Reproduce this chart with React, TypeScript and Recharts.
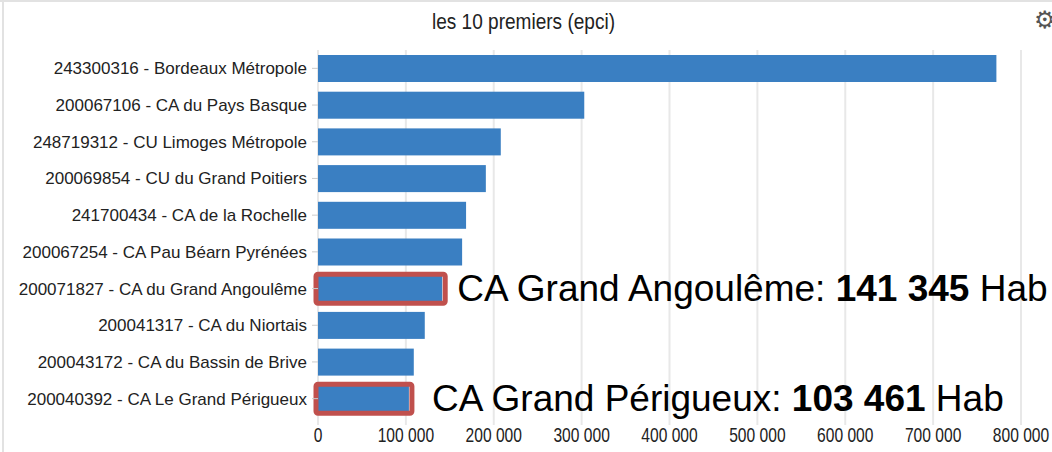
import React from "react";
import { BarChart, Bar, XAxis, YAxis, CartesianGrid } from "recharts";

const categories = [
  "243300316 - Bordeaux Métropole",
  "200067106 - CA du Pays Basque",
  "248719312 - CU Limoges Métropole",
  "200069854 - CU du Grand Poitiers",
  "241700434 - CA de la Rochelle",
  "200067254 - CA Pau Béarn Pyrénées",
  "200071827 - CA du Grand Angoulême",
  "200041317 - CA du Niortais",
  "200043172 - CA du Bassin de Brive",
  "200040392 - CA Le Grand Périgueux",
];
const population = [772000, 303000, 208000, 191000, 168500, 164000, 141345, 121500, 109000, 103461];
const xTicks = [0, 100000, 200000, 300000, 400000, 500000, 600000, 700000, 800000];
const title = "les 10 premiers (epci)";

const annotationNames = ["200071827 - CA du Grand Angoulême", "200040392 - CA Le Grand Périgueux"];
const annotationLabels = ["CA Grand Angoulême: ", "CA Grand Périgueux: "];
const annotationValues = ["141 345", "103 461"];
const annotationUnit = " Hab";

const data = categories.map((name, i) => ({ name, value: population[i] }));

const annotationDx: Record<string, number> = {
  "200071827 - CA du Grand Angoulême": 15,
  "200040392 - CA Le Grand Périgueux": 23,
};

const fmt = (v: number) => String(v).replace(/\B(?=(\d{3})+(?!\d))/g, " ");

const FONT = "'Liberation Sans', Arial, sans-serif";

const XTick = (props: any) => {
  const { x, y, payload } = props;
  return (
    <text
      transform={`translate(${x},${y + 15}) scale(0.78,1)`}
      textAnchor="middle"
      fontFamily={FONT}
      fontSize={20}
      fill="#222"
    >
      {fmt(payload.value)}
    </text>
  );
};

const BarShape = (props: any) => {
  const { x, y, width, height, payload } = props;
  const idx = annotationNames.indexOf(payload.name);
  return (
    <g>
      <rect x={x} y={y} width={width} height={height} fill="#3a7fc2" />
      {idx >= 0 && (
        <g>
          <rect
            x={x - 2}
            y={y - 1}
            width={width + 5}
            height={height + 2}
            fill="none"
            stroke="#c0504d"
            strokeWidth={5}
            rx={2}
          />
          <text
            x={x + width + annotationDx[payload.name]}
            y={y + height / 2 + 12}
            fontFamily={FONT}
            fontSize={37}
            fill="#000"
          >
            <tspan>{annotationLabels[idx]}</tspan>
            <tspan fontWeight="bold">{annotationValues[idx]}</tspan>
            <tspan>{annotationUnit}</tspan>
          </text>
        </g>
      )}
    </g>
  );
};

export default function App() {
  return (
    <div
      style={{
        position: "fixed",
        left: 0,
        top: 0,
        width: 1052,
        height: 452,
        background: "#fff",
        overflow: "hidden",
      }}
    >
      <div style={{ position: "absolute", left: 0, top: 0, width: 1052, height: 2, background: "#e2e2e2" }} />
      <div style={{ position: "absolute", left: 2, top: 0, width: 2, height: 452, background: "#e2e2e2" }} />
      <svg style={{ position: "absolute", left: 0, top: 0 }} width={1052} height={50}>
        <text
          x={432}
          y={29}
          textLength={183}
          lengthAdjust="spacingAndGlyphs"
          fontFamily={FONT}
          fontSize={22}
          fill="#222"
        >
          {title}
        </text>
        <text x={1034} y={28} fontFamily="'DejaVu Sans', sans-serif" fontSize={24} fill="#555">
          ⚙
        </text>
      </svg>
      <BarChart
        width={1052}
        height={452}
        data={data}
        layout="vertical"
        margin={{ top: 50, right: 31, bottom: 5, left: 0 }}
        barSize={27}
        style={{ position: "absolute", left: 0, top: 0 }}
      >
        <CartesianGrid horizontal={false} vertical={true} stroke="#e8e8e8" strokeWidth={2} />
        <XAxis
          type="number"
          domain={[0, 800000]}
          ticks={xTicks}
          axisLine={false}
          tickLine={{ stroke: "#e8e8e8", strokeWidth: 2 }}
          tickSize={8}
          height={30}
          interval={0}
          tick={<XTick />}
        />
        <YAxis
          type="category"
          dataKey="name"
          width={318}
          axisLine={false}
          tickLine={{ stroke: "#cccccc" }}
          tickSize={6}
          tickMargin={5}
          interval={0}
          tick={{ fill: "#222", fontSize: 17, fontFamily: FONT }}
        />
        <Bar dataKey="value" isAnimationActive={false} shape={BarShape} />
      </BarChart>
    </div>
  );
}
